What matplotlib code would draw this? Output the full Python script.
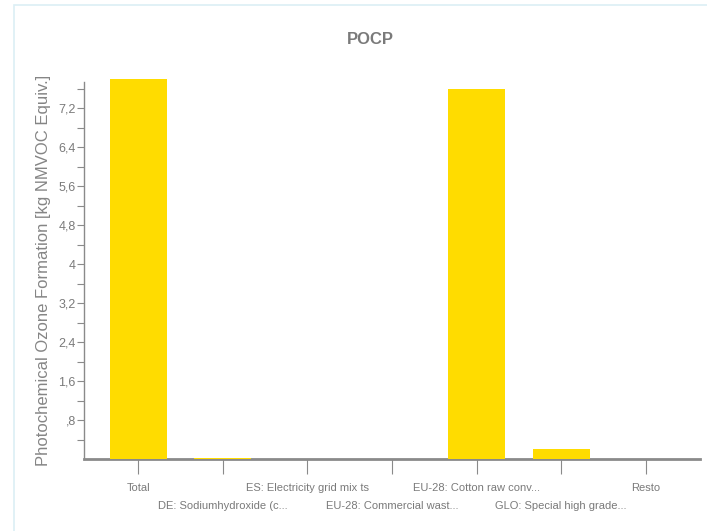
import matplotlib.pyplot as plt
from matplotlib.patches import Rectangle

plt.rcParams['font.family'] = ['Liberation Sans', 'DejaVu Sans']

categories = ["Total", "DE: Sodiumhydroxide (c...", "ES: Electricity grid mix ts",
              "EU-28: Commercial wast...", "EU-28: Cotton raw conv...",
              "GLO: Special high grade...", "Resto"]
values = [7.80, 0.03, 0.01, 0.01, 7.59, 0.21, 0.01]
ytick_values = [0.8, 1.6, 2.4, 3.2, 4.0, 4.8, 5.6, 6.4, 7.2]
ytick_labels = [",8", "1,6", "2,4", "3,2", "4", "4,8", "5,6", "6,4", "7,2"]
yminor_values = [0.4, 1.2, 2.0, 2.8, 3.6, 4.4, 5.2, 6.0, 6.8, 7.6]

gray = "#7a7a7a"
yellow = "#FFDC00"

fig = plt.figure(figsize=(7.07, 5.31), dpi=100)
# light frame around the chart area
fig.patches.append(Rectangle((14 / 707, -0.1), 1.2, 526 / 531 + 0.1,
                             transform=fig.transFigure, fill=False,
                             edgecolor="#dceff5", linewidth=1.2))

ax = fig.add_axes([84 / 707, 72 / 531, 616 / 707, 377 / 531])
x = list(range(len(categories)))
ax.bar(x, values, width=0.67, color=yellow, zorder=2, clip_on=False)
ax.set_xlim(-0.64, len(categories) - 1 + 0.64)
ax.set_ylim(0, 7.74)

for s in ["top", "right"]:
    ax.spines[s].set_visible(False)
ax.spines["left"].set_color("#8a8a8a")
ax.spines["left"].set_linewidth(1.0)
ax.spines["bottom"].set_color("#8a8a8a")
ax.spines["bottom"].set_linewidth(2.0)
ax.spines["bottom"].set_zorder(1)

ax.set_yticks(ytick_values)
ax.set_yticklabels(ytick_labels)
ax.set_yticks(yminor_values, minor=True)
ax.tick_params(axis="y", which="both", length=5, width=0.8, color="#8a8a8a",
               labelcolor=gray, labelsize=9, pad=1)

ax.set_xticks(x)
ax.set_xticklabels(categories)
ax.tick_params(axis="x", length=11, width=0.8, color="#8a8a8a",
               labelcolor=gray, labelsize=8)
for i, t in enumerate(ax.xaxis.get_major_ticks()):
    t.set_pad(6 if i % 2 == 0 else 19)

ax.set_ylabel("Photochemical Ozone Formation [kg NMVOC Equiv.]",
              color="#858585", fontsize=12, labelpad=5)
fig.text(370 / 707, 1 - 40 / 531, "POCP", ha="center", va="center",
         color=gray, fontsize=12, fontweight="bold")

fig.savefig("out.png", dpi=100, facecolor="white")
